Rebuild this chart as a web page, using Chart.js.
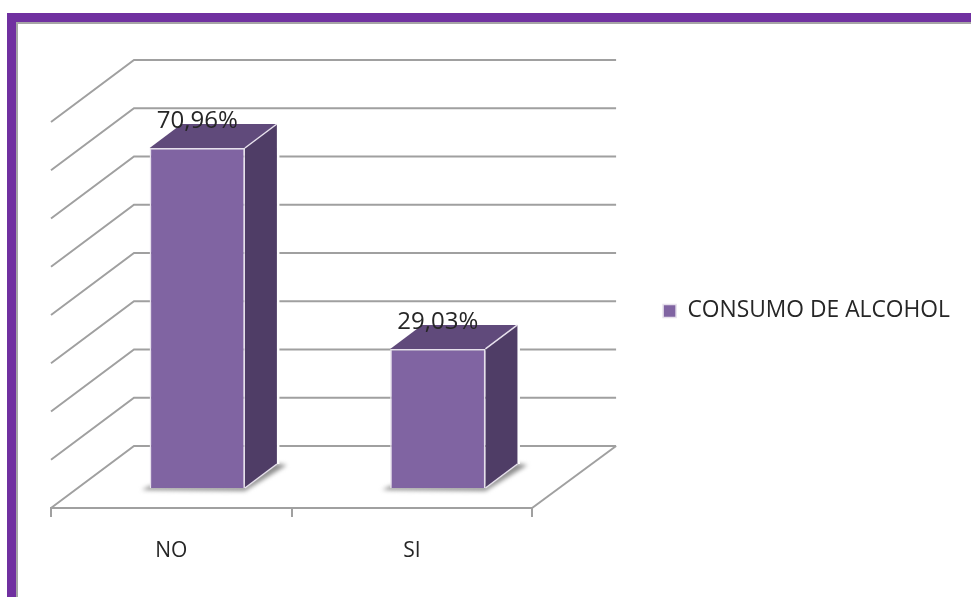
<!DOCTYPE html>
<html>
<head>
<meta charset="utf-8">
<title>Consumo de alcohol</title>
<script src="https://cdn.jsdelivr.net/npm/chart.js@4/dist/chart.umd.min.js"></script>
<style>
html, body { margin: 0; padding: 0; background: #fff; overflow: hidden; }
#frame { position: absolute; left: 7px; top: 13px; width: 964px; height: 584px; box-sizing: border-box;
  background: #fff; border-left: 9px solid #7030a0; border-top: 9px solid #7030a0; }
#inner { position: absolute; left: 0; top: 0; right: 0; bottom: 0; border-left: 2px solid #a6a6a6; border-top: 2px solid #a6a6a6; }
#myChart { position: absolute; left: 0; top: 0; }
</style>
</head>
<body>
<div id="frame"><div id="inner"></div></div>
<canvas id="myChart" width="971" height="597"></canvas>
<script>
var categories = ['NO', 'SI'];
var values = [70.96, 29.03];
var seriesName = 'CONSUMO DE ALCOHOL';
var gridTicks = [0, 10, 20, 30, 40, 50, 60, 70, 80];

var FONT = '"Open Sans", sans-serif';
var wallOffset = { x: 83, y: -62 };   // back wall relative to the front axis
var barOffset = { x: 26, y: -20 };    // bars stand a bit behind the front axis
var barDepth = { x: 32, y: -24 };

function label(v) {
    return v.toFixed(2).replace('.', ',') + '%';
}

function poly(ctx, pts, fill) {
    ctx.beginPath();
    ctx.moveTo(pts[0][0], pts[0][1]);
    for (var i = 1; i < pts.length; i++) ctx.lineTo(pts[i][0], pts[i][1]);
    ctx.closePath();
    ctx.fillStyle = fill;
    ctx.fill();
}

var fake3d = {
    id: 'fake3d',
    beforeDatasetsDraw: function (chart) {
        // walls and floor, from the hidden grid scale
        var ctx = chart.ctx, area = chart.chartArea, g = chart.scales.y2;
        ctx.save();
        ctx.strokeStyle = '#a0a0a0';
        ctx.lineWidth = 2;
        gridTicks.forEach(function (t) {
            var y = g.getPixelForValue(t);
            ctx.beginPath();
            ctx.moveTo(area.left, y);
            ctx.lineTo(area.left + wallOffset.x, y + wallOffset.y);
            ctx.lineTo(area.right + wallOffset.x + 1, y + wallOffset.y);
            ctx.stroke();
        });
        ctx.beginPath();
        ctx.moveTo(area.right + wallOffset.x + 1, area.bottom + wallOffset.y);
        ctx.lineTo(area.right, area.bottom);
        ctx.stroke();
        ctx.restore();
    },
    beforeDatasetDraw: function (chart, args) {
        var ctx = chart.ctx;
        ctx.save();
        ctx.translate(barOffset.x, barOffset.y);
        args.meta.data.forEach(function (bar) {
            var l = bar.x - bar.width / 2, r = bar.x + bar.width / 2;
            var t = bar.y, b = bar.base, dx = barDepth.x, dy = barDepth.y;
            // soft shadow on the floor
            ctx.save();
            ctx.filter = 'blur(2px)';
            poly(ctx, [[l - 8, b + 2], [r, b + 3], [r + dx + 10, b + dy + 1], [r + dx - 4, b + dy - 1], [r, b - 2], [l, b - 2]], '#8f8f8f');
            ctx.restore();
            // white halo where the box cuts the grid lines
            ctx.strokeStyle = '#fff';
            ctx.lineWidth = 3;
            ctx.beginPath();
            ctx.moveTo(r + dx + 1, t + dy);
            ctx.lineTo(r + dx + 1, b + dy);
            ctx.stroke();
            // top and side faces
            poly(ctx, [[l, t], [r, t], [r + dx, t + dy], [l + dx, t + dy]], '#604a7b');
            poly(ctx, [[r, t], [r + dx, t + dy], [r + dx, b + dy], [r, b]], '#4f3d66');
            ctx.strokeStyle = '#e6e0ec';
            ctx.lineWidth = 1.5;
            ctx.beginPath();
            ctx.moveTo(r, t);
            ctx.lineTo(r + dx, t + dy);
            ctx.stroke();
            ctx.beginPath();
            ctx.moveTo(r, b);
            ctx.lineTo(r + dx, b + dy);
            ctx.stroke();
        });
    },
    afterDatasetDraw: function (chart, args) {
        var ctx = chart.ctx;
        ctx.font = '24px ' + FONT;
        ctx.fillStyle = '#262626';
        ctx.textAlign = 'center';
        ctx.textBaseline = 'alphabetic';
        args.meta.data.forEach(function (bar, i) {
            ctx.fillText(label(values[i]), bar.x, bar.y - 20);
        });
        ctx.restore();
    }
};

var ctx = document.getElementById('myChart');
var chart = new Chart(ctx, {
    type: 'bar',
    data: {
        labels: categories,
        datasets: [{
            label: seriesName,
            data: values,
            yAxisID: 'y',
            backgroundColor: '#8064a2',
            borderColor: '#e6e0ec',
            borderWidth: 1.5,
            barPercentage: 0.396,
            categoryPercentage: 1
        }]
    },
    options: {
        responsive: false,
        animation: false,
        events: [],
        layout: { padding: { left: 51, top: 25, right: 11, bottom: 0 } },
        scales: {
            x: {
                grid: { drawOnChartArea: false, color: '#a0a0a0', lineWidth: 2, tickLength: 9 },
                border: { color: '#a0a0a0', width: 2 },
                ticks: { color: '#262626', font: { family: FONT, size: 21 }, padding: 21, maxRotation: 0 },
                afterFit: function (s) { s.height = 89; }
            },
            y: { display: false, min: 0, max: 100.8 },
            y2: {
                position: 'right',
                min: 0,
                max: 100.1,
                grid: { display: false },
                border: { display: false },
                ticks: { display: false },
                afterFit: function (s) { s.width = 121; }
            }
        },
        plugins: {
            tooltip: { enabled: false },
            legend: {
                position: 'right',
                maxWidth: 340,
                labels: {
                    color: '#262626',
                    font: { family: FONT, size: 22.8 },
                    boxWidth: 13,
                    boxHeight: 13,
                    padding: 10
                }
            }
        }
    },
    plugins: [fake3d]
});
</script>
</body>
</html>
